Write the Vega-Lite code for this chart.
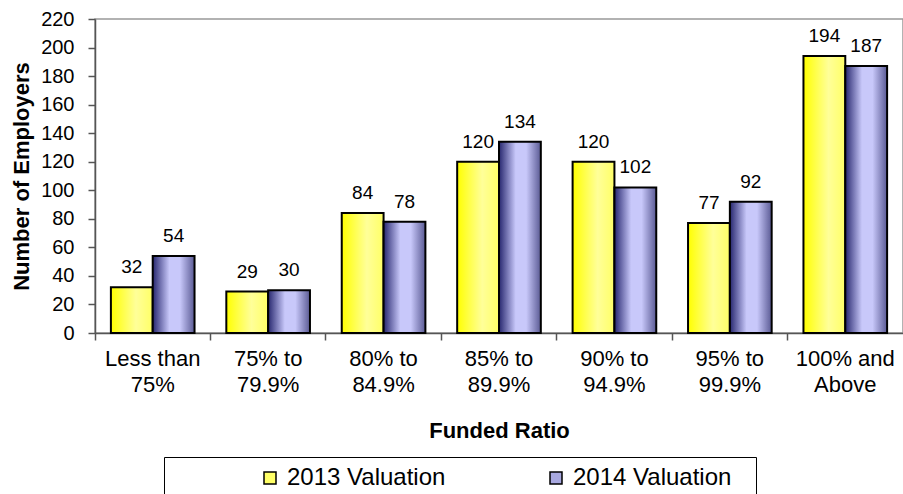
{
  "$schema": "https://vega.github.io/schema/vega-lite/v6.json",
  "width": 808,
  "height": 314,
  "autosize": {"type": "none"},
  "padding": {"left": 95, "top": 19, "right": 0, "bottom": 161},
  "background": "white",
  "config": {
    "font": "Liberation Sans",
    "view": {"stroke": "#999999", "strokeWidth": 1.5},
    "axis": {"grid": false, "labelColor": "#000", "titleColor": "#000"}
  },
  "data": {
    "values": [
      {"category": "Less than 75%", "series": "2013 Valuation", "value": 32},
      {"category": "Less than 75%", "series": "2014 Valuation", "value": 54},
      {"category": "75% to 79.9%", "series": "2013 Valuation", "value": 29},
      {"category": "75% to 79.9%", "series": "2014 Valuation", "value": 30},
      {"category": "80% to 84.9%", "series": "2013 Valuation", "value": 84},
      {"category": "80% to 84.9%", "series": "2014 Valuation", "value": 78},
      {"category": "85% to 89.9%", "series": "2013 Valuation", "value": 120},
      {"category": "85% to 89.9%", "series": "2014 Valuation", "value": 134},
      {"category": "90% to 94.9%", "series": "2013 Valuation", "value": 120},
      {"category": "90% to 94.9%", "series": "2014 Valuation", "value": 102},
      {"category": "95% to 99.9%", "series": "2013 Valuation", "value": 77},
      {"category": "95% to 99.9%", "series": "2014 Valuation", "value": 92},
      {"category": "100% and Above", "series": "2013 Valuation", "value": 194},
      {"category": "100% and Above", "series": "2014 Valuation", "value": 187}
    ]
  },
  "encoding": {
    "x": {
      "field": "category",
      "type": "nominal",
      "sort": null,
      "scale": {"paddingInner": 0, "paddingOuter": 0},
      "axis": {
        "title": "Funded Ratio",
        "titleFontSize": 22,
        "titleFontWeight": "bold",
        "titlePadding": 25,
        "labelAngle": 0,
        "labelFontSize": 22,
        "labelLineHeight": 26,
        "labelPadding": 8,
        "labelExpr": "[slice(datum.label, 0, lastindexof(datum.label, ' ')), slice(datum.label, lastindexof(datum.label, ' ') + 1)]",
        "bandPosition": 0,
        "tickSize": 7,
        "tickWidth": 1.5,
        "domainWidth": 1.5,
        "domainColor": "#555555",
        "tickColor": "#555555"
      }
    },
    "xOffset": {
      "field": "series",
      "type": "nominal",
      "scale": {"paddingInner": 0, "paddingOuter": 0.38}
    },
    "y": {
      "field": "value",
      "type": "quantitative",
      "scale": {"domain": [0, 220], "nice": false},
      "axis": {
        "title": "Number of Employers",
        "titleFontSize": 22,
        "titleFontWeight": "bold",
        "titlePadding": 7,
        "values": [0, 20, 40, 60, 80, 100, 120, 140, 160, 180, 200, 220],
        "labelFontSize": 20,
        "labelPadding": 14,
        "tickSize": 7,
        "tickWidth": 1.5,
        "domainWidth": 1.5,
        "domainColor": "#555555",
        "tickColor": "#555555"
      }
    }
  },
  "layer": [
    {
      "mark": {"type": "bar"},
      "encoding": {
        "color": {
          "field": "series",
          "type": "nominal",
          "scale": {"range": ["#ffff66", "#a8a8e0"]},
          "legend": {
            "orient": "none",
            "legendX": 69,
            "legendY": 438,
            "direction": "horizontal",
            "title": "\u00a0",
            "titleOrient": "right",
            "titleFontSize": 10,
            "titlePadding": 16,
            "padding": 9,
            "symbolOffset": 85,
            "columnPadding": 13,
            "strokeColor": "#000000",
            "fillColor": "#ffffff",
            "labelFontSize": 24,
            "labelColor": "#000",
            "labelOffset": 5,
            "labelLimit": 500,
            "symbolType": "square",
            "symbolSize": 144,
            "symbolStrokeColor": "#000000",
            "symbolStrokeWidth": 1.5,
            "symbolOpacity": 1
          }
        }
      }
    },
    {
      "transform": [{"filter": "datum.series == '2013 Valuation'"}],
      "mark": {
        "type": "bar",
        "stroke": "#000000",
        "strokeWidth": 2,
        "fill": {
          "gradient": "linear",
          "x1": 0, "y1": 0, "x2": 1, "y2": 0,
          "stops": [
            {"offset": 0, "color": "#ffff00"},
            {"offset": 0.6, "color": "#ffff99"},
            {"offset": 1, "color": "#ffff66"}
          ]
        }
      }
    },
    {
      "transform": [{"filter": "datum.series == '2014 Valuation'"}],
      "mark": {
        "type": "bar",
        "stroke": "#000000",
        "strokeWidth": 2,
        "fill": {
          "gradient": "linear",
          "x1": 0, "y1": 0, "x2": 1, "y2": 0,
          "stops": [
            {"offset": 0, "color": "#27276f"},
            {"offset": 0.4, "color": "#c8c8fa"},
            {"offset": 0.65, "color": "#c8c8fa"},
            {"offset": 1, "color": "#5a5a94"}
          ]
        }
      }
    },
    {
      "mark": {"type": "text", "fontSize": 19, "baseline": "alphabetic", "dy": -14, "color": "#000"},
      "encoding": {"text": {"field": "value", "type": "quantitative"}}
    }
  ]
}
